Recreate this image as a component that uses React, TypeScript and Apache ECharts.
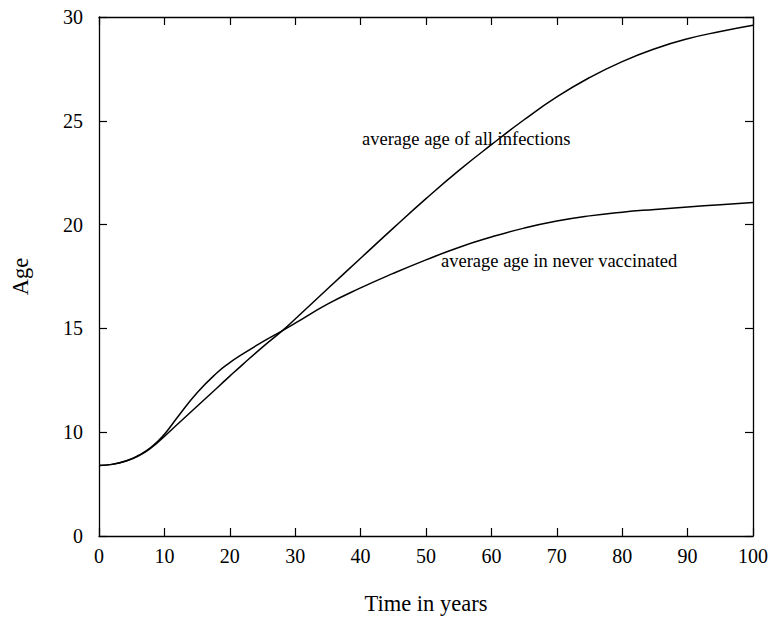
import React, { useEffect, useRef } from "react";
import * as echarts from "echarts";

const years = [0, 2, 4, 6, 8, 10, 12, 15, 18, 20, 22, 25, 28, 30, 35, 40, 45, 50, 55, 60, 65, 70, 75, 80, 85, 90, 95, 100];
const allInfections = [8.4, 8.45, 8.6, 8.85, 9.25, 9.8, 10.38, 11.25, 12.12, 12.7, 13.27, 14.1, 14.88, 15.45, 16.92, 18.38, 19.83, 21.25, 22.6, 23.85, 25.05, 26.15, 27.08, 27.85, 28.47, 28.95, 29.3, 29.6];
const neverVaccinated = [8.4, 8.45, 8.6, 8.88, 9.28, 9.9, 10.72, 11.9, 12.85, 13.35, 13.77, 14.35, 14.88, 15.25, 16.18, 16.95, 17.65, 18.3, 18.9, 19.4, 19.83, 20.17, 20.42, 20.6, 20.73, 20.85, 20.96, 21.07];
const yTicks = [5, 10, 15, 20, 25, 30];
const yTickLabels = ["0", "10", "15", "20", "25", "30"];
const labelAll = "average age of all infections";
const labelNever = "average age in never vaccinated";

const FONT = "Liberation Serif";

function tick() {
  return { show: true, inside: true, length: 8, lineStyle: { color: "#000", width: 1.2 } };
}
function line() {
  return { show: true, onZero: false, lineStyle: { color: "#000", width: 1.3 } };
}

export default function App() {
  const ref = useRef<HTMLDivElement>(null);
  useEffect(() => {
    if (!ref.current) return;
    const chart = echarts.init(ref.current, undefined, { renderer: "svg" });
    const ylab = (v: number) => {
      const i = yTicks.indexOf(v);
      return i >= 0 ? yTickLabels[i] : "";
    };
    chart.setOption({
      animation: false,
      backgroundColor: "#fff",
      grid: { left: 99, right: 20, top: 17, bottom: 83, show: false },
      xAxis: [
        {
          type: "value", min: 0, max: 100, interval: 10, position: "bottom",
          axisLine: line(),
          axisTick: tick(),
          splitLine: { show: false },
          axisLabel: { color: "#000", fontFamily: FONT, fontSize: 20, margin: 10 },
          name: "Time in years", nameLocation: "middle", nameGap: 56,
          nameTextStyle: { color: "#000", fontFamily: FONT, fontSize: 22.5 },
        },
        {
          type: "value", min: 0, max: 100, interval: 10, position: "top",
          axisLine: line(),
          axisTick: tick(), axisLabel: { show: false }, splitLine: { show: false },
        },
      ],
      yAxis: [
        {
          type: "value", min: 5, max: 30, interval: 5, position: "left",
          axisLine: line(),
          axisTick: tick(),
          splitLine: { show: false },
          axisLabel: { color: "#000", fontFamily: FONT, fontSize: 20, margin: 16, formatter: ylab },
          name: "Age", nameLocation: "middle", nameGap: 67,
          nameTextStyle: { color: "#000", fontFamily: FONT, fontSize: 22.5 },
        },
        {
          type: "value", min: 5, max: 30, interval: 5, position: "right",
          axisLine: line(),
          axisTick: tick(), axisLabel: { show: false }, splitLine: { show: false },
        },
      ],
      series: [
        {
          type: "line", name: "all", xAxisIndex: 0, yAxisIndex: 0,
          data: years.map((t, i) => [t, allInfections[i]]),
          smooth: 0.5, showSymbol: false,
          lineStyle: { color: "#000", width: 1.5 }, itemStyle: { color: "#000" },
        },
        {
          type: "line", name: "never", xAxisIndex: 0, yAxisIndex: 0,
          data: years.map((t, i) => [t, neverVaccinated[i]]),
          smooth: 0.5, showSymbol: false,
          lineStyle: { color: "#000", width: 1.5 }, itemStyle: { color: "#000" },
        },
      ],
      graphic: [
        { type: "text", left: 362, top: 129, z: 10, style: { text: labelAll, fill: "#000", font: `18.5px "${FONT}"` } },
        { type: "text", left: 441, top: 251, z: 10, style: { text: labelNever, fill: "#000", font: `18.5px "${FONT}"` } },
      ],
    });
    return () => chart.dispose();
  }, []);
  return <div ref={ref} style={{ position: "absolute", left: 0, top: 0, width: 773, height: 620 }} />;
}
